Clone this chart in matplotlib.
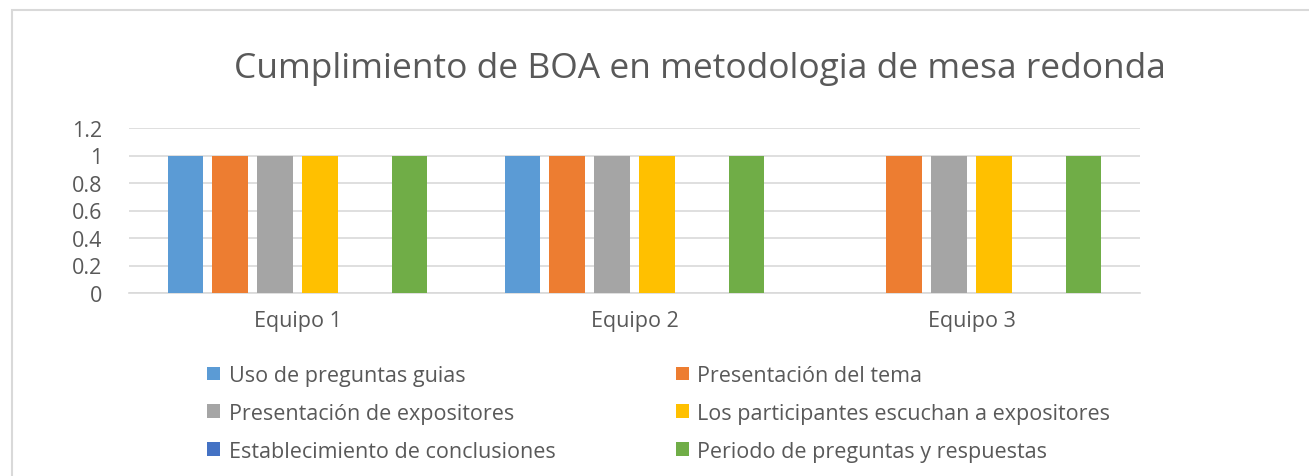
import numpy as np
import matplotlib.pyplot as plt
from matplotlib.patches import Patch, Rectangle

plt.rcParams["font.family"] = ["Open Sans", "DejaVu Sans"]

teams = ["Equipo 1", "Equipo 2", "Equipo 3"]
series_names = [
    "Uso de preguntas guias",
    "Presentación del tema",
    "Presentación de expositores",
    "Los participantes escuchan a expositores",
    "Establecimiento de conclusiones",
    "Periodo de preguntas y respuestas",
]
series_values = [
    [1, 1, 0],
    [1, 1, 1],
    [1, 1, 1],
    [1, 1, 1],
    [0, 0, 0],
    [1, 1, 1],
]
colors = ["#5b9bd5", "#ed7d31", "#a5a5a5", "#ffc000", "#4472c4", "#70ad47"]
yticks = [0, 0.2, 0.4, 0.6, 0.8, 1, 1.2]
ytick_labels = ["0", "0.2", "0.4", "0.6", "0.8", "1", "1.2"]

text_col = "#595959"
grid_col = "#d9d9d9"

fig = plt.figure(figsize=(13.09, 4.77), dpi=100)
ax = fig.add_axes([129 / 1309, 1 - 294 / 477, 1011 / 1309, 165 / 477])

# chart border like the Excel chart area
fig.patches.append(Rectangle((12 / 1309, -0.01), 1.01, 1 - 11 / 477 + 0.01,
                             transform=fig.transFigure, fill=False,
                             edgecolor=grid_col, linewidth=1.5))

x = np.arange(len(teams))
stride = 0.1335
width = 0.104
n = len(series_names)
for i, (name, vals, c) in enumerate(zip(series_names, series_values, colors)):
    offs = (i - (n - 1) / 2) * stride
    ax.bar(x + offs, vals, width=width, color=c, label=name, zorder=3)

ax.set_xlim(-0.5, 2.5)
ax.set_ylim(0, 1.2)
ax.set_yticks(yticks)
ax.set_yticklabels(ytick_labels)
ax.set_xticks(x)
ax.set_xticklabels(teams)
ax.yaxis.grid(True, color=grid_col, linewidth=1.2, zorder=0)
ax.tick_params(axis="both", length=0, labelsize=15.5, colors=text_col)
ax.tick_params(axis="y", pad=19.5)
ax.tick_params(axis="x", pad=12)
for side in ["top", "right", "left"]:
    ax.spines[side].set_visible(False)
ax.spines["bottom"].set_color(grid_col)
ax.spines["bottom"].set_linewidth(1.2)

fig.text(700 / 1309, 1 - 69 / 477, "Cumplimiento de BOA en metodologia de mesa redonda",
         ha="center", va="center", fontsize=25.5, color=text_col)

# legend rows go left to right, matplotlib fills columns first
order = [0, 2, 4, 1, 3, 5]
handles = [Patch(facecolor=colors[k], edgecolor="none") for k in order]
labels = [series_names[k] for k in order]
fig.legend(handles, labels, ncol=2, loc="upper left",
           bbox_to_anchor=(207 / 1309, 1 - 366 / 477), frameon=False,
           fontsize=15.5, labelcolor=text_col, handlelength=0.6, handleheight=0.6,
           handletextpad=0.4, columnspacing=5.6, labelspacing=0.78,
           borderaxespad=0, borderpad=0)

fig.savefig("out.png", dpi=100)
